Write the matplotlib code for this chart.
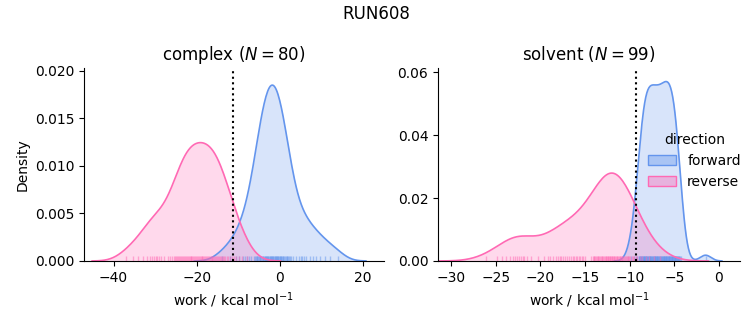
import numpy as np
import matplotlib.pyplot as plt
from matplotlib.colors import to_rgba
from matplotlib.patches import Patch

# work values (kcal/mol), estimated from the rug marks / density shapes
complex_forward = [-13.94, -11.94, -10.65, -9.79, -8.92, -8.39, -8.01, -7.40, -6.90, -6.27,
                   -5.93, -5.74, -5.56, -5.39, -5.20, -5.02, -4.84, -4.66, -4.48, -4.30,
                   -4.12, -3.94, -3.81, -3.68, -3.54, -3.41, -3.28, -3.14, -3.01, -2.87,
                   -2.75, -2.61, -2.48, -2.33, -2.21, -2.07, -1.93, -1.81, -1.67, -1.53,
                   -1.39, -1.27, -1.13, -1.00, -0.86, -0.73, -0.59, -0.45, -0.33, -0.19,
                   -0.06, 0.09, 0.21, 0.35, 0.49, 0.67, 0.85, 1.04, 1.24, 1.43,
                   1.62, 1.81, 2.00, 2.20, 2.38, 2.68, 3.20, 3.80, 4.57, 4.98,
                   5.40, 5.81, 6.41, 7.21, 8.00, 8.79, 9.59, 10.84, 12.16, 14.10]
complex_reverse = [-37.00, -35.40, -34.00, -32.90, -31.90, -31.20, -30.70, -30.30, -29.90, -29.50,
                   -29.10, -28.60, -27.80, -27.00, -26.30, -25.85, -25.55, -25.25, -24.95, -24.65,
                   -24.40, -24.15, -23.90, -23.68, -23.46, -23.24, -23.02, -22.80, -22.58, -22.36,
                   -22.14, -21.92, -21.70, -21.48, -21.26, -21.04, -20.82, -20.60, -20.38, -20.16,
                   -19.94, -19.72, -19.50, -19.28, -19.06, -18.84, -18.62, -18.40, -18.18, -17.96,
                   -17.74, -17.52, -17.30, -17.08, -16.86, -16.64, -16.42, -16.20, -15.98, -15.76,
                   -15.54, -15.32, -15.10, -14.88, -14.66, -14.44, -14.22, -14.00, -13.75, -13.45,
                   -13.15, -12.80, -12.45, -12.05, -11.60, -11.10, -10.55, -9.90, -9.10, -8.00]
solvent_forward = [-9.89, -9.48, -9.29, -9.15, -9.01, -8.94, -8.88, -8.81, -8.74, -8.68,
                   -8.62, -8.57, -8.53, -8.49, -8.44, -8.40, -8.36, -8.32, -8.27, -8.22,
                   -8.17, -8.12, -8.07, -8.02, -7.97, -7.92, -7.87, -7.82, -7.77, -7.72,
                   -7.67, -7.62, -7.57, -7.52, -7.47, -7.42, -7.37, -7.32, -7.27, -7.22,
                   -7.17, -7.115, -7.06, -7.005, -6.98, -6.95, -6.895, -6.84, -6.785, -6.73,
                   -6.675, -6.62, -6.565, -6.51, -6.455, -6.40, -6.35, -6.30, -6.26, -6.21,
                   -6.165, -6.12, -6.07, -6.02, -5.975, -5.93, -5.88, -5.83, -5.785, -5.74,
                   -5.69, -5.64, -5.595, -5.55, -5.50, -5.45, -5.405, -5.36, -5.31, -5.26,
                   -5.215, -5.17, -5.12, -5.07, -5.02, -4.97, -4.92, -4.87, -4.82, -4.77,
                   -4.72, -4.67, -4.62, -4.56, -4.50, -4.44, -4.36, -4.20, -1.50]
solvent_reverse = [-26.05, -24.90, -24.30, -23.80, -23.40, -23.10, -22.85, -22.60, -22.40, -22.20,
                   -22.00, -21.80, -21.50, -21.00, -20.30, -19.60, -19.20, -18.90, -18.60, -18.30,
                   -18.05, -17.85, -17.71, -17.48, -17.25, -17.01, -16.78, -16.55, -16.34, -16.18,
                   -16.02, -15.86, -15.70, -15.53, -15.38, -15.22, -15.05, -14.28, -14.14, -14.03,
                   -13.94, -13.86, -13.77, -13.68, -13.59, -13.50, -13.41, -13.32, -13.23, -13.14,
                   -13.05, -12.96, -12.87, -12.78, -12.70, -12.62, -12.54, -12.46, -12.38, -12.30,
                   -12.23, -12.16, -12.07, -12.00, -11.93, -11.86, -11.78, -11.70, -11.61, -11.53,
                   -11.46, -11.38, -11.30, -11.22, -11.13, -11.06, -10.98, -10.90, -10.82, -10.74,
                   -10.63, -10.54, -10.44, -10.34, -10.24, -10.14, -10.05, -9.94, -9.78, -9.63,
                   -9.48, -9.33, -9.18, -8.90, -8.60, -8.20, -7.80, -7.30, -6.60]

estimates = {'complex': -11.2, 'solvent': -9.3}
colors = {'forward': 'cornflowerblue', 'reverse': 'hotpink'}

# densities share one normalisation over all four series
n_total = len(complex_forward) + len(complex_reverse) + len(solvent_forward) + len(solvent_reverse)


def kde(x):
    x = np.asarray(x)
    bw = x.std(ddof=1) * len(x) ** (-1 / 5)
    grid = np.linspace(x.min() - 3 * bw, x.max() + 3 * bw, 200)
    d = np.exp(-0.5 * ((grid[:, None] - x[None, :]) / bw) ** 2).sum(1)
    d = d / (n_total * bw * np.sqrt(2 * np.pi))
    return grid, d


fig = plt.figure(figsize=(7.53, 3.25), dpi=100)
ax1 = fig.add_axes([0.1116, 0.197, 0.398, 0.594])
ax2 = fig.add_axes([0.5817, 0.197, 0.401, 0.594])

panels = [(ax1, 'complex', complex_forward, complex_reverse),
          (ax2, 'solvent', solvent_forward, solvent_reverse)]

for ax, name, fwd, rev in panels:
    for label, vals in [('forward', fwd), ('reverse', rev)]:
        gx, gy = kde(vals)
        c = colors[label]
        ax.fill_between(gx, gy, color=c, alpha=0.25, lw=0)
        ax.plot(gx, gy, color=c, lw=1.2)
        ax.vlines(vals, 0, 0.025, transform=ax.get_xaxis_transform(),
                  color=c, lw=1, alpha=0.5)
    ax.axvline(estimates[name], color='k', ls=':', lw=1.5)
    ax.set_title(f'{name} ($N = {len(fwd)}$)', fontsize=12)
    ax.set_xlabel('work / kcal mol$^{-1}$')
    ax.spines['top'].set_visible(False)
    ax.spines['right'].set_visible(False)

ax1.set_ylabel('Density')
ax1.set_xlim(-47.1, 25.0)
ax1.set_ylim(0, 0.0203)
ax1.set_yticks([0, 0.005, 0.01, 0.015, 0.02])
ax1.set_yticklabels(['0.000', '0.005', '0.010', '0.015', '0.020'])
ax2.set_xlim(-31.46, 2.35)
ax2.set_ylim(0, 0.0614)
ax2.set_yticks([0, 0.02, 0.04, 0.06])
ax2.set_yticklabels(['0.00', '0.02', '0.04', '0.06'])

handles = [Patch(facecolor=to_rgba(colors[k], 0.4), edgecolor=colors[k], label=k)
           for k in ['forward', 'reverse']]
ax2.legend(handles=handles, title='direction', frameon=False,
           loc='center left', bbox_to_anchor=(0.655, 0.52))

fig.suptitle('RUN608', fontsize=12, y=0.985)
fig.savefig('out.png', dpi=100)
